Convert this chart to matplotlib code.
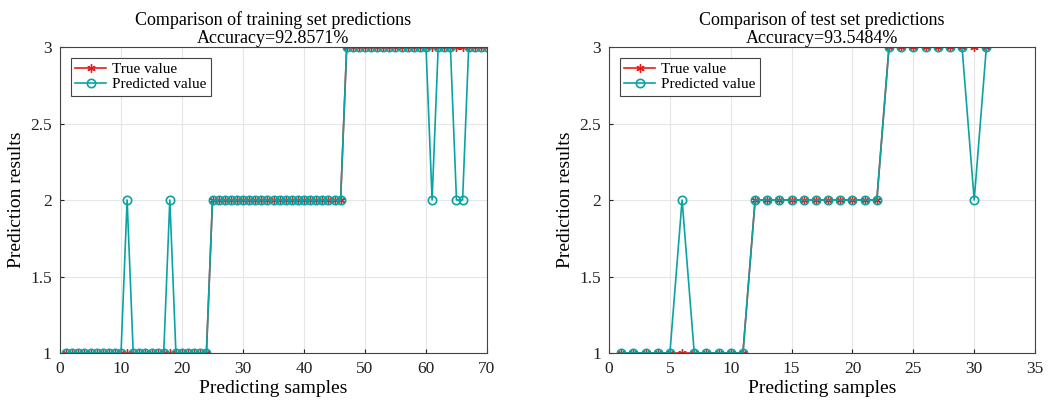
import numpy as np
import matplotlib
matplotlib.use("Agg")
import matplotlib.pyplot as plt

plt.rcParams['font.family'] = ['Liberation Serif', 'DejaVu Serif']

# training set: true labels and predictions
train_true = [1] * 24 + [2] * 22 + [3] * 24
train_pred = list(train_true)
for i in (11, 18):
    train_pred[i - 1] = 2
for i in (61, 65, 66):
    train_pred[i - 1] = 2
train_acc = "92.8571%"

# test set: true labels and predictions
test_true = [1] * 11 + [2] * 11 + [3] * 9
test_pred = list(test_true)
test_pred[6 - 1] = 2
test_pred[30 - 1] = 2
test_acc = "93.5484%"

red = '#e0201b'
teal = '#0aa3a3'

fig = plt.figure(figsize=(10.55, 4.01), dpi=100)
ax1 = fig.add_axes([0.0569, 0.1197, 0.4047, 0.763])
ax2 = fig.add_axes([0.5773, 0.1197, 0.4038, 0.763])


def panel(ax, ytrue, ypred, title, acc, xmax, xstep):
    x = np.arange(1, len(ytrue) + 1)
    ax.plot(x, ytrue, '-', marker=(6, 2, 0), color=red, lw=1.2, ms=6,
            mew=1.0, label='True value')
    ax.plot(x, ypred, '-o', color=teal, lw=1.2, ms=6, mfc='none', mew=1.2,
            label='Predicted value')
    ax.set_xlim(0, xmax)
    ax.set_ylim(1, 3)
    ax.set_xticks(np.arange(0, xmax + 1, xstep))
    ax.set_yticks([1, 1.5, 2, 2.5, 3])
    ax.set_yticklabels(['1', '1.5', '2', '2.5', '3'])
    ax.grid(True, color='#e6e6e6', lw=0.8)
    ax.set_axisbelow(True)
    for s in ax.spines.values():
        s.set_color('#444444')
        s.set_linewidth(0.8)
    ax.tick_params(labelsize=12.5, direction='in', length=3, pad=6,
                   colors='#222222')
    ax.set_xlabel('Predicting samples', fontsize=14, labelpad=2)
    ax.set_ylabel('Prediction results', fontsize=14, labelpad=4)
    ax.set_title(title + '\nAccuracy=' + acc, fontsize=13, pad=3,
                 linespacing=1.05)
    leg = ax.legend(loc='upper left', fontsize=11, fancybox=False,
                    borderaxespad=0.7, handlelength=2.0, borderpad=0.3,
                    labelspacing=0.1, handletextpad=0.4, framealpha=1)
    leg.get_frame().set_edgecolor('#444444')
    leg.get_frame().set_linewidth(0.8)


panel(ax1, train_true, train_pred, 'Comparison of training set predictions',
      train_acc, 70, 10)
panel(ax2, test_true, test_pred, 'Comparison of test set predictions',
      test_acc, 35, 5)

fig.savefig('out.png', dpi=100)
